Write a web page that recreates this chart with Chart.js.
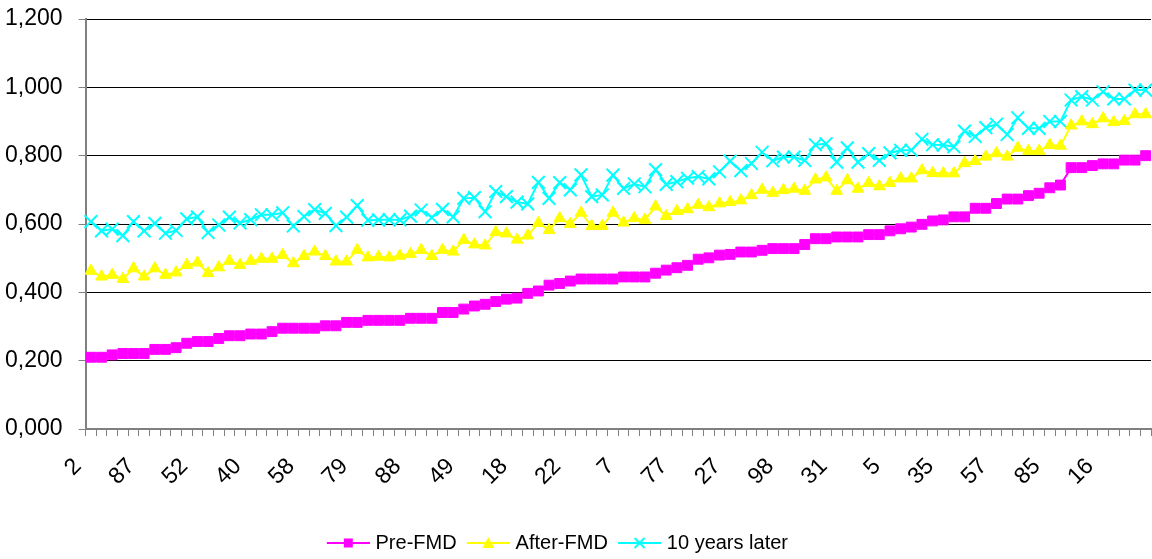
<!DOCTYPE html>
<html>
<head>
<meta charset="utf-8">
<script src="https://cdn.jsdelivr.net/npm/chart.js@4"></script>
<style>
  html, body { margin: 0; padding: 0; background: #fff; }
  #wrap { width: 1152px; height: 559px; position: relative; }
</style>
</head>
<body>
<div id="wrap"><canvas id="chart"></canvas></div>
<script>
// tick labels shown every 5th category (100 categories)
const tickLabels = ['2', '87', '52', '40', '58', '79', '88', '49', '18', '22',
                    '7', '77', '27', '98', '31', '5', '35', '57', '85', '16'];

const preFMD = [
  0.210, 0.210, 0.217, 0.221, 0.221, 0.221, 0.233, 0.233, 0.238, 0.251,
  0.256, 0.256, 0.265, 0.273, 0.273, 0.278, 0.278, 0.285, 0.295, 0.295,
  0.295, 0.295, 0.302, 0.302, 0.312, 0.312, 0.318, 0.318, 0.318, 0.318,
  0.324, 0.324, 0.324, 0.341, 0.341, 0.351, 0.360, 0.365, 0.373, 0.380,
  0.383, 0.397, 0.404, 0.421, 0.426, 0.433, 0.439, 0.439, 0.439, 0.439,
  0.445, 0.445, 0.445, 0.456, 0.465, 0.472, 0.479, 0.497, 0.501, 0.509,
  0.511, 0.518, 0.518, 0.523, 0.528, 0.528, 0.528, 0.540, 0.557, 0.557,
  0.562, 0.562, 0.562, 0.569, 0.569, 0.580, 0.586, 0.591, 0.599, 0.609,
  0.612, 0.621, 0.621, 0.646, 0.646, 0.660, 0.673, 0.673, 0.683, 0.690,
  0.706, 0.714, 0.765, 0.765, 0.771, 0.776, 0.776, 0.787, 0.787, 0.800
];

const afterFMD = [
  0.463, 0.446, 0.451, 0.439, 0.470, 0.446, 0.470, 0.451, 0.458, 0.480,
  0.487, 0.456, 0.473, 0.492, 0.480, 0.492, 0.498, 0.498, 0.509, 0.485,
  0.506, 0.519, 0.506, 0.490, 0.490, 0.524, 0.502, 0.504, 0.502, 0.507,
  0.512, 0.524, 0.506, 0.524, 0.519, 0.553, 0.540, 0.537, 0.576, 0.572,
  0.554, 0.566, 0.603, 0.582, 0.617, 0.600, 0.633, 0.594, 0.594, 0.633,
  0.604, 0.617, 0.612, 0.651, 0.623, 0.638, 0.643, 0.656, 0.649, 0.660,
  0.664, 0.669, 0.684, 0.700, 0.691, 0.699, 0.703, 0.697, 0.730, 0.736,
  0.697, 0.728, 0.703, 0.720, 0.710, 0.720, 0.733, 0.733, 0.757, 0.749,
  0.748, 0.748, 0.778, 0.784, 0.797, 0.807, 0.797, 0.823, 0.814, 0.814,
  0.831, 0.829, 0.888, 0.900, 0.892, 0.909, 0.898, 0.901, 0.921, 0.921
];

const tenYearsLater = [
  0.607, 0.580, 0.585, 0.566, 0.607, 0.580, 0.602, 0.573, 0.581, 0.615,
  0.621, 0.575, 0.597, 0.620, 0.603, 0.613, 0.627, 0.627, 0.633, 0.594,
  0.622, 0.642, 0.631, 0.595, 0.620, 0.654, 0.611, 0.612, 0.613, 0.612,
  0.623, 0.641, 0.619, 0.643, 0.621, 0.675, 0.677, 0.636, 0.695, 0.680,
  0.664, 0.659, 0.722, 0.675, 0.721, 0.700, 0.744, 0.680, 0.685, 0.743,
  0.704, 0.717, 0.709, 0.759, 0.716, 0.724, 0.734, 0.739, 0.732, 0.753,
  0.784, 0.756, 0.777, 0.810, 0.785, 0.796, 0.796, 0.786, 0.832, 0.835,
  0.781, 0.823, 0.781, 0.806, 0.786, 0.808, 0.816, 0.816, 0.848, 0.832,
  0.831, 0.826, 0.872, 0.856, 0.882, 0.892, 0.862, 0.911, 0.880, 0.880,
  0.900, 0.900, 0.963, 0.973, 0.963, 0.987, 0.966, 0.966, 0.992, 0.992
];

const seriesNames = ['Pre-FMD', 'After-FMD', '10 years later'];

// 100 categories, only every 5th one carries a label
const categories = preFMD.map((v, i) => (i % 5 === 0 ? tickLabels[i / 5] : ''));

const colors = ['#FF00FF', '#FFFF00', '#00FFFF'];
const styles = ['rect', 'triangle', 'crossRot'];

// legend icon: short line with the marker in the middle
// (canvas is wider than the legend box so the line sits close to the text)
function legendIcon(color, style) {
    const cv = document.createElement('canvas');
    cv.width = 50;
    cv.height = 16;
    const g = cv.getContext('2d');
    g.strokeStyle = color;
    g.fillStyle = color;
    g.lineWidth = 2;
    g.beginPath();
    g.moveTo(7, 8);
    g.lineTo(50, 8);
    g.stroke();
    const cx = 28.5, cy = 8;
    if (style === 'rect') {
        g.fillRect(cx - 4.5, cy - 4.5, 9, 9);
    } else if (style === 'triangle') {
        g.beginPath();
        g.moveTo(cx, cy - 6);
        g.lineTo(cx + 6, cy + 5);
        g.lineTo(cx - 6, cy + 5);
        g.closePath();
        g.fill();
    } else {
        g.beginPath();
        g.moveTo(cx - 5, cy - 5);
        g.lineTo(cx + 5, cy + 5);
        g.moveTo(cx + 5, cy - 5);
        g.lineTo(cx - 5, cy + 5);
        g.stroke();
    }
    return cv;
}

const icons = colors.map((c, i) => legendIcon(c, styles[i]));

const sans = '"Liberation Sans", Arial, sans-serif';
const axisFont = { family: sans, size: 23 };
const xFont = { family: sans, size: 23 };
const legendFont = { family: sans, size: 20 };

// nudge the legend to where Excel put it
const legendShift = {
    id: 'legendShift',
    afterLayout(chart) {
        const lg = chart.legend;
        lg.left -= 28;
        lg.top += 4;
        lg.bottom += 4;
    }
};

new Chart(document.getElementById('chart'), {
    type: 'line',
    data: {
        labels: categories,
        datasets: [
            {
                label: seriesNames[0],
                data: preFMD,
                borderColor: colors[0],
                backgroundColor: colors[0],
                borderWidth: 2,
                pointStyle: 'rect',
                pointRadius: 7,
                pointBorderWidth: 1,
                pointBackgroundColor: colors[0],
                pointBorderColor: colors[0]
            },
            {
                label: seriesNames[1],
                data: afterFMD,
                borderColor: colors[1],
                backgroundColor: colors[1],
                borderWidth: 2,
                pointStyle: 'triangle',
                pointRadius: 6.8,
                pointBorderWidth: 1,
                pointBackgroundColor: colors[1],
                pointBorderColor: colors[1]
            },
            {
                label: seriesNames[2],
                data: tenYearsLater,
                borderColor: colors[2],
                backgroundColor: colors[2],
                borderWidth: 2,
                pointStyle: 'crossRot',
                pointRadius: 9,
                pointBorderWidth: 2,
                pointBackgroundColor: colors[2],
                pointBorderColor: colors[2]
            }
        ]
    },
    plugins: [legendShift],
    options: {
        responsive: true,
        maintainAspectRatio: false,
        animation: false,
        devicePixelRatio: 1,
        layout: { autoPadding: false, padding: { left: -11, right: 1, top: 0, bottom: 0 } },
        plugins: {
            tooltip: { enabled: false },
            legend: {
                position: 'bottom',
                labels: {
                    font: legendFont,
                    color: '#000',
                    usePointStyle: true,
                    pointStyleWidth: 41.5,
                    padding: 7.5,
                    generateLabels: (chart) => chart.data.datasets.map((ds, i) => ({
                        text: ds.label,
                        pointStyle: icons[i],
                        fillStyle: colors[i],
                        strokeStyle: colors[i],
                        lineWidth: 0,
                        hidden: false,
                        datasetIndex: i
                    }))
                }
            }
        },
        scales: {
            x: {
                offset: true,
                afterFit: (scale) => {
                    scale.paddingLeft = 0;
                    scale.paddingRight = 0;
                    scale.height = 559 - 429 - scale.chart.legend.height;
                },
                grid: {
                    offset: true,
                    drawOnChartArea: false,
                    drawTicks: true,
                    tickLength: 7,
                    tickColor: '#808080',
                    tickWidth: 1
                },
                border: { display: true, color: '#808080', width: 2, z: 1 },
                ticks: {
                    autoSkip: false,
                    minRotation: 45,
                    maxRotation: 45,
                    padding: 17,
                    labelOffset: -13,
                    color: '#000',
                    font: xFont,
                    callback: (v, i) => categories[i]
                }
            },
            y: {
                min: 0,
                max: 1.2,
                afterFit: (scale) => {
                    scale.paddingTop = 19;
                },
                grid: {
                    color: '#000',
                    lineWidth: 1,
                    drawTicks: true,
                    tickLength: 7,
                    tickColor: '#808080'
                },
                border: { display: true, color: '#808080', width: 2 },
                ticks: {
                    stepSize: 0.2,
                    padding: 16,
                    color: '#000',
                    font: axisFont,
                    callback: (v) => v.toFixed(3).replace('.', ',')
                }
            }
        }
    }
});
</script>
</body>
</html>
